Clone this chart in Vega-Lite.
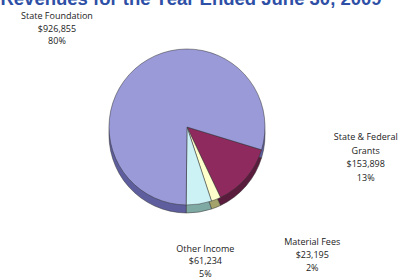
{
  "$schema": "https://vega.github.io/schema/vega-lite/v6.json",
  "width": 374,
  "height": 238,
  "autosize": {"type": "none"},
  "padding": {"left": 0, "top": 8, "right": 34, "bottom": 32},
  "background": "white",
  "title": {
    "text": "Revenues for the Year Ended June 30, 2009",
    "font": "Liberation Sans",
    "fontSize": 18.5,
    "fontWeight": "bold",
    "color": "#2E4FA6",
    "anchor": "middle",
    "frame": "group",
    "dx": 4,
    "offset": 0
  },
  "config": {"view": {"stroke": null}},
  "data": {
    "values": [
      {"category": "State & Federal Grants", "name": "State & Federal\nGrants", "amount": 153898, "amountText": "$153,898", "pct": "13%", "order": 1},
      {"category": "Material Fees", "name": "Material Fees", "amount": 23195, "amountText": "$23,195", "pct": "2%", "order": 2},
      {"category": "Other Income", "name": "Other Income", "amount": 61234, "amountText": "$61,234", "pct": "5%", "order": 3},
      {"category": "State Foundation", "name": "State Foundation", "amount": 926855, "amountText": "$926,855", "pct": "80%", "order": 4}
    ]
  },
  "transform": [
    {"stack": "amount", "groupby": [], "sort": [{"field": "order"}], "as": ["a0", "a1"]},
    {"calculate": "(datum.a0 + datum.a1) / 2", "as": "mid"},
    {"calculate": "datum.name + '\\n' + datum.amountText + '\\n' + datum.pct", "as": "label"}
  ],
  "layer": [
    {
      "mark": {"type": "arc", "outerRadius": 78, "yOffset": 8, "stroke": "#333", "strokeWidth": 0.5},
      "encoding": {
        "theta": {"field": "a0", "type": "quantitative", "scale": {"domain": [0, 1165182], "range": [1.8675, 8.1507]}},
        "theta2": {"field": "a1"},
        "color": {
          "field": "category", "type": "nominal", "legend": null,
          "scale": {"domain": ["State Foundation", "State & Federal Grants", "Material Fees", "Other Income"], "range": ["#5E5E9E", "#5A1C3C", "#A3A36B", "#7FA9A3"]}
        }
      }
    },
    {
      "mark": {"type": "arc", "outerRadius": 78, "stroke": "#333", "strokeWidth": 0.5},
      "encoding": {
        "theta": {"field": "a0", "type": "quantitative"},
        "theta2": {"field": "a1"},
        "fill": {
          "field": "category", "type": "nominal", "legend": null,
          "scale": {"domain": ["State Foundation", "State & Federal Grants", "Material Fees", "Other Income"], "range": ["#9A9AD8", "#8E2A5E", "#FFFFCC", "#CCF2F6"]}
        }
      }
    },
    {
      "transform": [{"filter": "datum.category == 'State Foundation'"}],
      "mark": {"type": "text", "font": "Open Sans", "fontSize": 9, "color": "#222", "baseline": "top", "align": "center", "lineHeight": 12.5, "lineBreak": "\n", "dx": -71, "dy": -34},
      "encoding": {"theta": {"field": "mid", "type": "quantitative"}, "radius": {"value": 100}, "text": {"field": "label"}}
    },
    {
      "transform": [{"filter": "datum.category == 'State & Federal Grants'"}],
      "mark": {"type": "text", "font": "Open Sans", "fontSize": 9, "color": "#222", "baseline": "top", "align": "center", "lineHeight": 13.5, "lineBreak": "\n", "dx": 103, "dy": -59},
      "encoding": {"theta": {"field": "mid", "type": "quantitative"}, "radius": {"value": 100}, "text": {"field": "label"}}
    },
    {
      "transform": [{"filter": "datum.category == 'Material Fees'"}],
      "mark": {"type": "text", "font": "Open Sans", "fontSize": 9, "color": "#222", "baseline": "top", "align": "center", "lineHeight": 13, "lineBreak": "\n", "dx": 88, "dy": 18},
      "encoding": {"theta": {"field": "mid", "type": "quantitative"}, "radius": {"value": 100}, "text": {"field": "label"}}
    },
    {
      "transform": [{"filter": "datum.category == 'Other Income'"}],
      "mark": {"type": "text", "font": "Open Sans", "fontSize": 9, "color": "#222", "baseline": "top", "align": "center", "lineHeight": 12.5, "lineBreak": "\n", "dx": 3, "dy": 19},
      "encoding": {"theta": {"field": "mid", "type": "quantitative"}, "radius": {"value": 100}, "text": {"field": "label"}}
    }
  ]
}
